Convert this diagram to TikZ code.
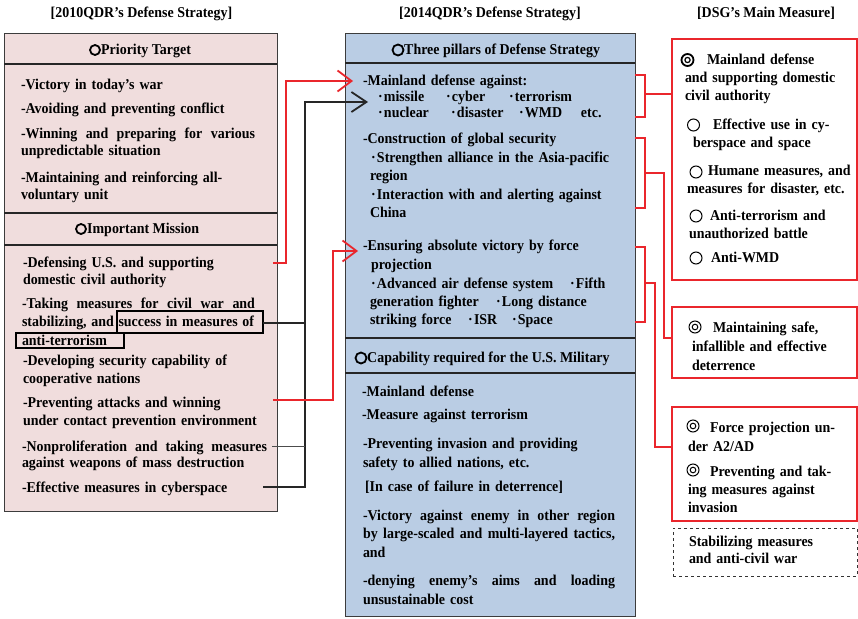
\documentclass[tikz,border=0pt]{standalone}
\usepackage{fontspec}
\setmainfont[FakeStretch=0.93]{Liberation Serif}
\usetikzlibrary{arrows.meta}
\definecolor{pinkfill}{RGB}{240,221,221}
\definecolor{bluefill}{RGB}{186,205,228}
\definecolor{cred}{RGB}{234,38,44}
\definecolor{edge}{RGB}{60,60,60}
\newcommand{\bul}{\makebox[7pt][c]{·}}
\begin{document}
\begin{tikzpicture}[x=1pt,y=-1pt,
  txt/.style={anchor=base west,inner sep=0pt,outer sep=0pt,align=left,text width=#1,font=\bfseries\fontsize{15}{17.5}\selectfont},
  txt/.default=255pt,
  lsp/.style={font=\bfseries\fontsize{15}{#1}\selectfont},
  ttl/.style={anchor=base,inner sep=0pt,font=\bfseries\fontsize{15}{17}\selectfont},
  hdr/.style={anchor=base west,inner sep=0pt,font=\bfseries\fontsize{15}{17}\selectfont},
  hcirc/.style={draw=black,line width=1.8pt},
  mcirc/.style={draw=black,line width=1pt},
  box/.style={anchor=north west,inner sep=0pt,outer sep=0pt,line width=0.9pt,draw=edge},
  rbox/.style={anchor=north west,inner sep=0pt,outer sep=0pt,line width=1.6pt,draw=cred,fill=white},
  sep/.style={line width=1.3pt,draw=black!85},
  redc/.style={draw=cred,line width=1.8pt},
  blkc/.style={draw=black!85,line width=1.8pt},
  tipr/.style={-{Straight Barb[length=14pt,width=21pt]}},
  tipb/.style={-{Straight Barb[length=15pt,width=20pt]}}
]
\fill[white] (0,0) rectangle (858,618);
\useasboundingbox (0,0) rectangle (858,618);

% titles
\node[ttl] (t1) at (141.5,18) {[2010QDR’s Defense Strategy]};
\node[ttl] (t2) at (490,18) {[2014QDR’s Defense Strategy]};
\node[ttl] (t3) at (766,18) {[DSG’s Main Measure]};

% left box
\node[box,fill=pinkfill,minimum width=273pt,minimum height=478pt] (LB) at (4,33) {};
\draw[sep] ([yshift=-31pt]LB.north west) -- ([yshift=-31pt]LB.north east);
\draw[sep] ([yshift=-180pt]LB.north west) -- ([yshift=-180pt]LB.north east);
\draw[sep] ([yshift=-212pt]LB.north west) -- ([yshift=-212pt]LB.north east);
\draw[hcirc] (95,50) circle (5);
\node[hdr] (lh1) at (101,54) {Priority Target};
\draw[hcirc] (81,229) circle (5);
\node[hdr] (lh2) at (87,233) {Important Mission};

\node[txt] (l1) at (21,89) {-Victory in today’s war};
\node[txt] (l2) at (21,113) {-Avoiding and preventing conflict};
\node[txt,lsp=17] (l3) at (21,138) {\makebox[234pt][s]{-Winning\hfill and\hfill preparing\hfill for\hfill various}\\unpredictable situation};
\node[txt,lsp=17] (l4) at (21,182) {-Maintaining and reinforcing all-\\voluntary unit};
\node[txt,lsp=17] (m1) at (23,267) {-Defensing U.S. and supporting\\domestic civil authority};
\node[txt,lsp=18.5] (m2) at (22,308) {\makebox[233pt][s]{-Taking\hfill measures\hfill for\hfill civil\hfill war\hfill and}\\\makebox[232pt][s]{stabilizing,\hfill and\hfill success\hfill in\hfill measures\hfill of}\\anti-terrorism};
\node[txt,lsp=18] (m3) at (23,365) {-Developing security capability of\\cooperative nations};
\node[txt,lsp=18] (m4) at (23,407) {-Preventing attacks and winning\\under contact prevention environment};
\node[txt,lsp=16] (m5) at (22,451) {\makebox[245pt][s]{-Nonproliferation\hfill and\hfill taking\hfill measures}\\against weapons of mass destruction};
\node[txt] (m6) at (22,492) {-Effective measures in cyberspace};
\draw[black,line width=1.2pt] (117,311) rectangle (263,333);
\draw[black,line width=1.2pt] (16,333) rectangle (124,348);

% middle box
\node[box,fill=bluefill,minimum width=290pt,minimum height=583pt] (MB) at (345,33) {};
\draw[sep] ([yshift=-30pt]MB.north west) -- ([yshift=-30pt]MB.north east);
\draw[sep] ([yshift=-305pt]MB.north west) -- ([yshift=-305pt]MB.north east);
\draw[sep] ([yshift=-340pt]MB.north west) -- ([yshift=-340pt]MB.north east);
\draw[hcirc] (398,50) circle (5.5);
\node[hdr] (mh1) at (404,54) {Three pillars of Defense Strategy};
\draw[hcirc] (361,358) circle (5.5);
\node[hdr] (mh2) at (367,362) {Capability required for the U.S. Military};

\node[txt] (p1) at (363,85) {-Mainland defense against:};
\node[txt] (p1a) at (377,101) {\makebox[68pt][l]{\bul missile}\makebox[63pt][l]{\bul cyber}\bul terrorism};
\node[txt] (p1b) at (377,117) {\makebox[73pt][l]{\bul nuclear}\makebox[68pt][l]{\bul disaster}\makebox[63pt][l]{\bul WMD}etc.};
\node[txt] (p2) at (363,143) {-Construction of global security};
\node[txt,lsp=18] (p2a) at (370,162) {\bul Strengthen alliance in the Asia-pacific\\region};
\node[txt,lsp=18] (p2b) at (370,199) {\bul Interaction with and alerting against\\China};
\node[txt,lsp=19] (p3) at (363,250) {-Ensuring absolute victory by force\\\hspace*{8pt}projection};
\node[txt,lsp=18] (p3a) at (370,288) {\makebox[199pt][l]{\bul Advanced air defense system}\bul Fifth\\\makebox[125pt][l]{generation fighter}\bul Long distance\\\makebox[97pt][l]{striking force}\makebox[44pt][l]{\bul ISR}\bul Space};

\node[txt] (c1) at (362,396) {-Mainland defense};
\node[txt] (c2) at (362,419) {-Measure against terrorism};
\node[txt,lsp=19] (c3) at (363,448) {-Preventing invasion and providing\\safety to allied nations, etc.};
\node[txt] (c4) at (365,491) {[In case of failure in deterrence]};
\node[txt,lsp=18.5] (c5) at (363,520) {\makebox[252pt][s]{-Victory\hfill against\hfill enemy\hfill in\hfill other\hfill region}\\\makebox[252pt][s]{by\hfill large-scaled\hfill and\hfill multi-layered\hfill tactics,}\\and};
\node[txt,lsp=19] (c6) at (363,585) {\makebox[252pt][s]{-denying\hfill enemy’s\hfill aims\hfill and\hfill loading}\\unsustainable cost};

% right column
\node[rbox,minimum width=185pt,minimum height=241pt] (R1) at (672,39) {};
\node[rbox,minimum width=185pt,minimum height=71pt] (R2) at (672,307) {};
\node[rbox,minimum width=185pt,minimum height=114pt] (R3) at (672,407) {};
\node[box,dashed,draw=black!80,minimum width=184pt,minimum height=48pt] (R4) at (673,528) {};

\draw[draw=black,line width=1.8pt] (687.5,60) circle (6);
\draw[draw=black,line width=1.2pt] (687.5,60) circle (2.6);
\node[txt=170pt,lsp=18] (d1) at (685,64) {\hspace*{22pt}Mainland defense\\and supporting domestic\\civil authority};
\draw[mcirc] (693.5,125) circle (6);
\node[txt=170pt,lsp=18] (d2) at (693,129) {\hspace*{20pt}Effective use in cy-\\berspace and space};
\draw[mcirc] (696,172) circle (6);
\node[txt=170pt,lsp=18] (d3) at (687,175) {\hspace*{21pt}Humane measures, and\\measures for disaster, etc.};
\draw[mcirc] (696,216) circle (6);
\node[txt=170pt,lsp=18] (d4) at (689,220) {\hspace*{21pt}Anti-terrorism and\\unauthorized battle};
\draw[mcirc] (696,258) circle (6);
\node[txt=170pt] (d5) at (711,262) {Anti-WMD};

\draw[mcirc] (695,327) circle (6);
\draw[mcirc] (695,327) circle (2.8);
\node[txt=165pt,lsp=19] (e1) at (692,332) {\hspace*{21pt}Maintaining safe,\\infallible and effective\\deterrence};
\draw[mcirc] (693,426) circle (6);
\draw[mcirc] (693,426) circle (2.8);
\node[txt=168pt,lsp=19] (f1) at (688,432) {\hspace*{22pt}Force projection un-\\der A2/AD};
\draw[mcirc] (693,470) circle (6);
\draw[mcirc] (693,470) circle (2.8);
\node[txt=168pt,lsp=18] (f2) at (688,476) {\hspace*{22pt}Preventing and tak-\\ing measures against\\invasion};
\node[txt=165pt,lsp=17] (g1) at (689,546) {Stabilizing measures\\and anti-civil war};

% brackets on middle box
\draw[redc] (635,75) -- (645,75) -- (645,117) -- (635,117);
\draw[redc] (635,138) -- (645,138) -- (645,208) -- (635,208);
\draw[redc] (635,247) -- (645,247) -- (645,322) -- (635,322);
\coordinate (k1) at (645,94);
\coordinate (k2) at (645,173);
\coordinate (k3) at (645,283);
\coordinate (q2) at (672,338);
\coordinate (q3) at (672,447);
\draw[redc] (k1) -- (k1 -| R1.west);
\draw[redc] (k2) -- ++(19,0) |- (q2);
\draw[redc] (k3) -- ++(10,0) |- (q3);

% left-to-middle connectors
\coordinate (bj) at (305,300);
\coordinate (b0s) at (263,487);
\coordinate (b0e) at (368,102);
\coordinate (b1s) at (263,323);
\coordinate (b2s) at (272,446);
\draw[blkc,tipb] (b0s) -- (b0s -| bj) |- (b0e);
\draw[blkc] (b1s) -- (b1s -| bj);
\draw[black!70,line width=0.8pt] (b2s) -- (b2s -| bj);

\coordinate (a1s) at (273,263);
\coordinate (a1e) at (353,81);
\coordinate (a2s) at (273,400);
\coordinate (a2e) at (358,251);
\draw[redc,tipr] (a1s) -- ++(13,0) |- (a1e);
\draw[redc,tipr] (a2s) -- ++(60,0) |- (a2e);
\end{tikzpicture}
\end{document}
